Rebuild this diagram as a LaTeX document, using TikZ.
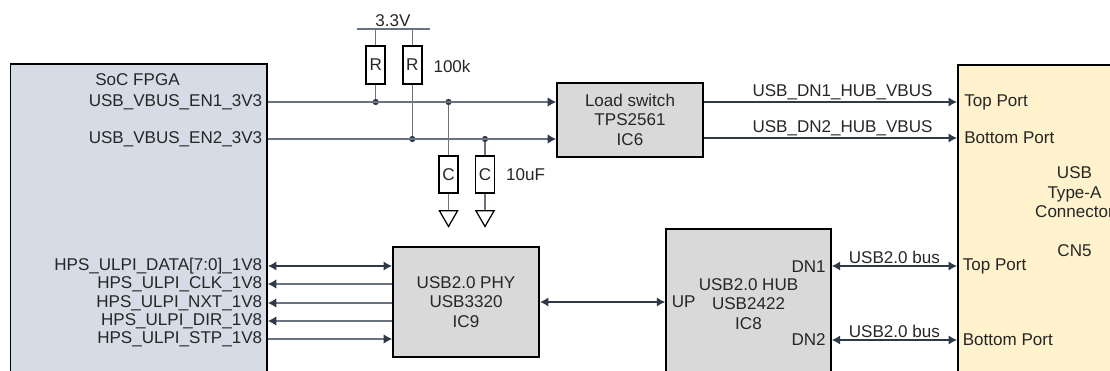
\documentclass[tikz,border=0pt]{standalone}
\usepackage{fontspec}
\setmainfont{Liberation Sans}
\usetikzlibrary{arrows.meta,shapes.geometric}
\definecolor{socblue}{HTML}{D6DCE5}
\definecolor{icgray}{HTML}{D9D9D9}
\definecolor{connyellow}{HTML}{FFF2CC}
\definecolor{wirethin}{HTML}{6A7380}
\definecolor{wirethick}{HTML}{2E3A4A}
\definecolor{inktext}{HTML}{262626}
\tikzset{
	every node/.style={font=\fontsize{9.7}{11}\selectfont, text=inktext, inner sep=0pt, align=center},
	block/.style={draw=black, line width=1.1pt, anchor=center},
	part/.style={draw=black, line width=1.1pt, fill=white, minimum width=0.38cm, minimum height=0.75cm},
	gndsym/.style={draw=black, line width=0.7pt, fill=white, regular polygon, regular polygon sides=3, shape border rotate=180, minimum size=0.42cm},
	dot/.style={circle, fill=wirethick, minimum size=0.125cm},
	wire/.style={draw=wirethin, line width=0.6pt},
	bus/.style={draw=wirethick, line width=1.15pt},
	tip/.style={-{Latex[length=1.7mm,width=1.9mm,color=wirethick]}},
	bothtip/.style={{Latex[length=1.7mm,width=1.9mm]}-{Latex[length=1.7mm,width=1.9mm]}}
}

\begin{document}
\begin{tikzpicture}
	%%%%% START %%%%%
	\useasboundingbox (0, 0) rectangle (22.2, 7.42);
	\clip (0, 0) rectangle (22.2, 7.42);
	
	% blocks
	\node[block, fill=socblue, minimum width=5.13cm, minimum height=7.14cm] (soc) at (2.775, 2.57) {};
	\node[block, fill=connyellow, minimum width=4.84cm, minimum height=7.12cm] (conn) at (21.58, 2.56) {};
	\node[block, fill=icgray, minimum width=2.92cm, minimum height=1.48cm] (load) at (12.6, 5.026) {Load switch\\TPS2561\\IC6};
	\node[block, fill=icgray, minimum width=2.92cm, minimum height=2.2cm] (phy) at (9.32, 1.38) {USB2.0 PHY\\USB3320\\IC9};
	\node[block, fill=icgray, minimum width=3.29cm, minimum height=3.84cm] (hub) at (14.97, 0.92) {};
	
	% texts in the blocks
	\node (soclabel) at (2.75, 5.83) {SoC FPGA};
	\node[anchor=east] (en1) at (5.25, 5.38) {USB\_VBUS\_EN1\_3V3};
	\node[anchor=east] (en2) at (5.25, 4.64) {USB\_VBUS\_EN2\_3V3};
	\node[anchor=east] (data) at (5.25, 2.1) {HPS\_ULPI\_DATA[7:0]\_1V8};
	\node[anchor=east] (clk) at (5.25, 1.74) {HPS\_ULPI\_CLK\_1V8};
	\node[anchor=east] (nxt) at (5.25, 1.36) {HPS\_ULPI\_NXT\_1V8};
	\node[anchor=east] (dir) at (5.25, 1.0) {HPS\_ULPI\_DIR\_1V8};
	\node[anchor=east] (stp) at (5.25, 0.64) {HPS\_ULPI\_STP\_1V8};
	\node (hublabel) at (14.97, 1.34) {USB2.0 HUB\\USB2422\\IC8};
	\node[anchor=west] (up) at (13.43, 1.38) {UP};
	\node[anchor=east] (dn1) at (16.52, 2.09) {DN1};
	\node[anchor=east] (dn2) at (16.52, 0.62) {DN2};
	\node[anchor=west] (vtop) at (19.28, 5.38) {Top Port};
	\node[anchor=west] (vbot) at (19.28, 4.66) {Bottom Port};
	\node[anchor=west] (dtop) at (19.25, 2.1) {Top Port};
	\node[anchor=west] (dbot) at (19.25, 0.62) {Bottom Port};
	\node (connlabel) at (21.49, 3.19) {USB\\Type-A\\Connector\\\\CN5};
	
	% pull-ups and caps
	\coordinate (railleft) at (7.13, 6.84);
	\coordinate (railright) at (8.6, 6.84);
	\node (rail) at (7.86, 7.0) {3.3V};
	\draw[wire] (railleft) -- (railright);
	\node[part] (r1) at (7.514, 6.12) {R};
	\node[part] (r2) at (8.246, 6.12) {R};
	\node (rval) at (9.04, 6.1) {100k};
	\node[part] (c1) at (8.97, 3.93) {C};
	\node[part] (c2) at (9.7, 3.93) {C};
	\node (cval) at (10.51, 3.92) {10uF};
	\node[gndsym] (g1) at (8.97, 3.1) {};
	\node[gndsym] (g2) at (9.7, 3.1) {};
	
	\node[dot] (j1) at (7.514, 5.38) {};
	\node[dot] (j2) at (8.246, 4.64) {};
	\node[dot] (j3) at (8.97, 5.38) {};
	\node[dot] (j4) at (9.7, 4.64) {};
	
	\draw[wire] (r1) -- (r1 |- railleft);
	\draw[wire] (r2) -- (r2 |- railleft);
	\draw[wire] (r1) -- (j1);
	\draw[wire] (r2) -- (j2);
	\draw[wire] (j3) -- (c1);
	\draw[wire] (j4) -- (c2);
	\draw[wire] (c1) -- (g1);
	\draw[wire] (c2) -- (g2);
	
	% enables
	\draw[wire, tip] (soc.east |- j1) -- (load.west |- j1);
	\draw[wire, tip] (soc.east |- j2) -- (load.west |- j2);
	
	% vbus
	\draw[bus, tip] (load.east |- vtop) -- (conn.west |- vtop) node[midway, above=0.03cm, xshift=0.24cm] (vbus1) {USB\_DN1\_HUB\_VBUS};
	\draw[bus, tip] (load.east |- vbot) -- (conn.west |- vbot) node[midway, above=0.03cm, xshift=0.24cm] (vbus2) {USB\_DN2\_HUB\_VBUS};
	
	% ulpi
	\draw[bus, bothtip] (soc.east |- data) -- (phy.west |- data);
	\draw[wire, tip] (phy.west |- clk) -- (soc.east |- clk);
	\draw[wire, tip] (phy.west |- nxt) -- (soc.east |- nxt);
	\draw[wire, tip] (phy.west |- dir) -- (soc.east |- dir);
	\draw[wire, tip] (soc.east |- stp) -- (phy.west |- stp);
	
	% usb
	\draw[bus, bothtip] (phy.east) -- (phy.east -| hub.west);
	\draw[bus, bothtip] (hub.east |- dtop) -- (conn.west |- dtop) node[midway, above=0.03cm] (bus1) {USB2.0 bus};
	\draw[bus, bothtip] (hub.east |- dbot) -- (conn.west |- dbot) node[midway, above=0.03cm] (bus2) {USB2.0 bus};
	%%%%% END %%%%%
\end{tikzpicture}
\end{document}
